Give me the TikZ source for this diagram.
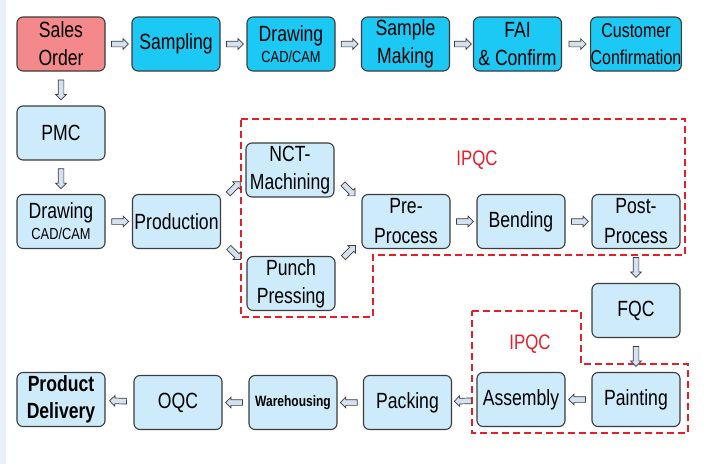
\documentclass[tikz,border=0pt]{standalone}
\usepackage{fontspec}
\setmainfont[FakeStretch=0.8]{Liberation Sans}
\usetikzlibrary{shapes.arrows,calc}
\definecolor{salmonbox}{HTML}{F4898B}
\definecolor{cyanbox}{HTML}{1CC8F4}
\definecolor{lightbox}{HTML}{CDEBFB}
\definecolor{edgecol}{HTML}{3C3C3C}
\definecolor{ipqccol}{HTML}{E3202A}
\definecolor{arrfill}{HTML}{D3E1F0}
\definecolor{stripcol}{HTML}{E9F1F9}
\begin{document}
\begin{tikzpicture}[x=1pt,y=-1pt,
  box/.style={draw=edgecol, line width=1.1pt, rounded corners=6pt, minimum width=88pt, minimum height=54pt, inner sep=0pt, align=center, font=\fontsize{22}{28}\selectfont},
  lbox/.style={box, fill=lightbox},
  cbox/.style={box, fill=cyanbox},
  sbox/.style={box, fill=salmonbox},
  arrbase/.style={single arrow, draw=edgecol, fill=arrfill, line width=0.7pt, minimum height=17pt, inner sep=2.5pt, single arrow head extend=2.5pt, anchor=center},
  barrow/.style={arrbase, sloped, allow upside down},
  varrow/.style={arrbase, sloped, allow upside down, minimum height=20pt},
  darrow/.style={arrbase},
  ipqcline/.style={draw=ipqccol, line width=1.5pt, dash pattern=on 7pt off 4pt},
  ipqclabel/.style={text=ipqccol, font=\fontsize{21}{25}\selectfont}
]
\useasboundingbox (0,0) rectangle (707,464);
\fill[white] (0,0) rectangle (707,464);
\fill[stripcol] (0,0) rectangle (6,464);

% top row
\node[sbox] (so) at (61,44) {Sales\\Order};
\node[cbox] (samp) at (176,44) {Sampling};
\node[cbox] (draw1) at (291,44) {Drawing\\[-7pt]{\fontsize{16}{18}\selectfont CAD/CAM}};
\node[cbox] (smake) at (405.5,44) {Sample\\Making};
\node[cbox] (fai) at (517.5,44) {FAI\\\& Confirm};
\node[cbox, font=\fontsize{20}{27}\selectfont] (cust) at (636,44) {Customer\\Confirmation};

% left column
\node[lbox] (pmc) at (61,133) {PMC};
\node[lbox] (draw2) at (61,221.5) {Drawing\\[-7pt]{\fontsize{16}{18}\selectfont CAD/CAM}};
\node[lbox] (prod) at (176.5,221.5) {Production};

% IPQC region
\node[lbox] (nct) at (290,170) {NCT-\\Machining};
\node[lbox] (punch) at (291,283.5) {Punch\\Pressing};
\node[lbox, font=\fontsize{22}{30}\selectfont] (pre) at (406,221.5) {Pre-\\Process};
\node[lbox] (bend) at (521,221.5) {Bending};
\node[lbox, font=\fontsize{22}{30}\selectfont] (post) at (636,221.5) {Post-\\Process};
\node[lbox] (fqc) at (636,310.5) {FQC};
\node[lbox] (paint) at (636,399.5) {Painting};
\node[lbox] (asm) at (521,399.5) {Assembly};
\node[lbox] (pack) at (407.5,402.5) {Packing};
\node[lbox, font=\bfseries\fontsize{15}{18}\selectfont] (ware) at (293,402.5) {Warehousing};
\node[lbox] (oqc) at (178,402.5) {OQC};
\node[lbox, font=\bfseries\fontsize{22}{27}\selectfont] (deliv) at (61,399.5) {Product\\Delivery};

% dashed IPQC outlines
\draw[ipqcline] (241,119) -- (685,119) -- (685,255) -- (373,255) -- (373,317) -- (241,317) -- cycle;
\draw[ipqcline] (472,311) -- (581,311) -- (581,364) -- (688,364) -- (688,433) -- (472,433) -- cycle;
\node[ipqclabel] (ipqc1) at (477,160) {IPQC};
\node[ipqclabel] (ipqc2) at (530,344.5) {IPQC};

% connectors
\path (so) -- node[barrow]{} (samp);
\path (samp) -- node[barrow]{} (draw1);
\path (draw1) -- node[barrow]{} (smake);
\path (smake) -- node[barrow]{} (fai);
\path (fai) -- node[barrow]{} (cust);
\path (so) -- node[varrow]{} (pmc);
\path (pmc) -- node[varrow]{} (draw2);
\path (draw2) -- node[barrow]{} (prod);
\path (prod.north east) -- node[darrow, rotate=45]{} ($(nct.west)!0.5!(nct.south west)$);
\path (prod.south east) -- node[darrow, rotate=-45]{} (punch.north west);
\path ($(nct.east)!0.5!(nct.south east)$) -- node[darrow, rotate=-45]{} (pre.north west);
\path (punch.north east) -- node[darrow, rotate=45]{} (pre.south west);
\path (pre) -- node[barrow]{} (bend);
\path (bend) -- node[barrow]{} (post);
\path (post) -- node[varrow]{} (fqc);
\path (fqc) -- node[varrow]{} (paint);
\path (paint) -- node[barrow]{} (asm);
\path (asm) -- node[barrow]{} (pack);
\path (pack) -- node[barrow]{} (ware);
\path (ware) -- node[barrow]{} (oqc);
\path (oqc) -- node[barrow]{} (deliv);
\end{tikzpicture}
\end{document}
